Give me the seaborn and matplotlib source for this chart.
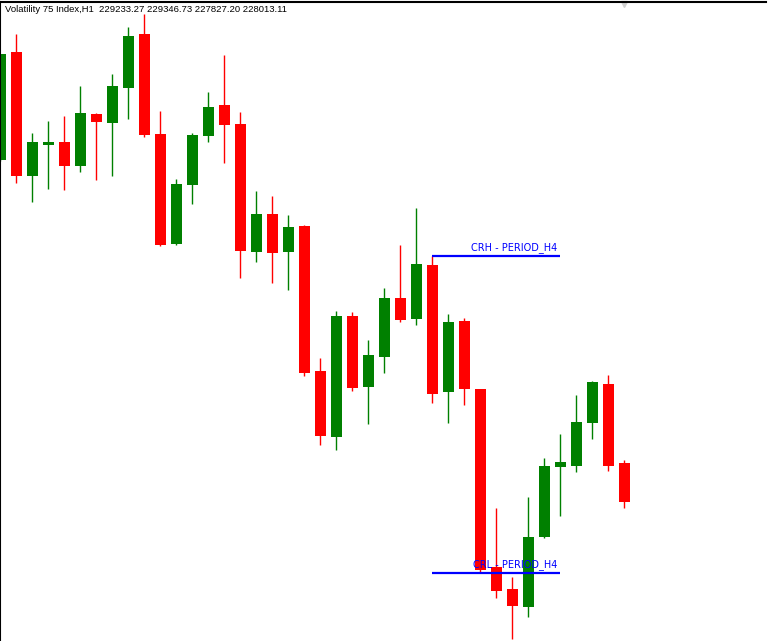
import numpy as np
import pandas as pd
import matplotlib
matplotlib.use("Agg")
import matplotlib.pyplot as plt
import seaborn as sns

# Volatility 75 Index, H1 candles
opens = [238897, 242353, 238417, 239377, 239473, 238737, 240369, 240081, 241201, 242929,
         239729, 236241, 238129, 239665, 240657, 240049, 235985, 237201, 235985, 236817,
         232177, 230065, 233937, 231665, 232625, 234513, 233841, 235569, 231505, 233777,
         231601, 225937, 225233, 224657, 226897, 229105, 229137, 230513, 231761, 229233.27]
highs = [242289, 242929, 239761, 240145, 240305, 241265, 240401, 241649, 243153, 243569,
         240465, 238321, 239761, 241073, 242257, 240433, 237937, 237777, 237169, 236849,
         232593, 234097, 234065, 233169, 234833, 236209, 237393, 235857, 234001, 233873,
         231601, 227825, 225617, 228177, 229393, 230161, 231409, 231857, 232049, 229346.73]
lows = [238865, 238193, 237585, 238001, 237969, 238545, 238289, 238417, 240209, 239633,
        236177, 236209, 237521, 239473, 238833, 235153, 235665, 234993, 234769, 232017,
        229809, 229649, 231537, 230481, 232113, 233745, 233649, 231153, 230513, 231089,
        225745, 224945, 223633, 224337, 226865, 227569, 228961, 230001, 228993, 227827.20]
closes = [242289, 238417, 239473, 239473, 238737, 240401, 240113, 241265, 242865, 239697,
          236209, 238161, 239697, 240593, 240017, 236017, 237201, 235953, 236785, 232113,
          230097, 233937, 231633, 232689, 234513, 233809, 235601, 231441, 233745, 231601,
          225841, 225169, 224689, 226897, 229137, 229265, 230545, 231825, 229137, 228013.11]

crh_level = 235857
crl_level = 225745
level_start, level_end = 27, 35
title = "Volatility 75 Index,H1  229233.27 229346.73 227827.20 228013.11"

df = pd.DataFrame({"open": opens, "high": highs, "low": lows, "close": closes})
df["idx"] = np.arange(len(df))
df["up"] = df["close"] >= df["open"]
df["color"] = np.where(df["up"], "#008000", "#FF0000")
df["bottom"] = df[["open", "close"]].min(axis=1)
df["height"] = (df["open"] - df["close"]).abs().clip(lower=60)

sns.set_style("white")

fig = plt.figure(figsize=(7.7, 6.41), dpi=100)
ax = fig.add_axes([0, 0, 766 / 770, 639 / 641])

# wicks then bodies
ax.vlines(df["idx"], df["low"], df["high"], colors=df["color"], linewidth=1.0)
ax.bar(df["idx"], df["height"], bottom=df["bottom"], width=0.69,
       color=df["color"], linewidth=0)

# CRH / CRL levels
for level, name in [(crh_level, "CRH - PERIOD_H4"), (crl_level, "CRL - PERIOD_H4")]:
    ax.hlines(level, level_start, level_end, colors="#0000FF", linewidth=1.6, zorder=4)
    ax.text(level_end - 0.18, level + 100, name, color="#0000FF", fontsize=7,
            ha="right", va="bottom", zorder=5)

# chart shift marker
ax.plot([39], [0.997], marker="v", markersize=5, color="#d0d0d0",
        transform=ax.get_xaxis_transform(), clip_on=False)

ax.set_xlim(-0.03, 766 / 16 - 0.03)
ax.set_ylim(223505 + 64, 244017 - 64)
ax.set_xticks([])
ax.set_yticks([])
sns.despine(ax=ax, right=True, bottom=True, top=False, left=False)
for side in ["left", "top"]:
    ax.spines[side].set_color("black")
    ax.spines[side].set_linewidth(1.5)

fig.text(5 / 770, 1 - 11.5 / 641, title, fontsize=6.8, family="Liberation Sans",
         color="black", va="baseline")

fig.savefig("out.png", dpi=100)
